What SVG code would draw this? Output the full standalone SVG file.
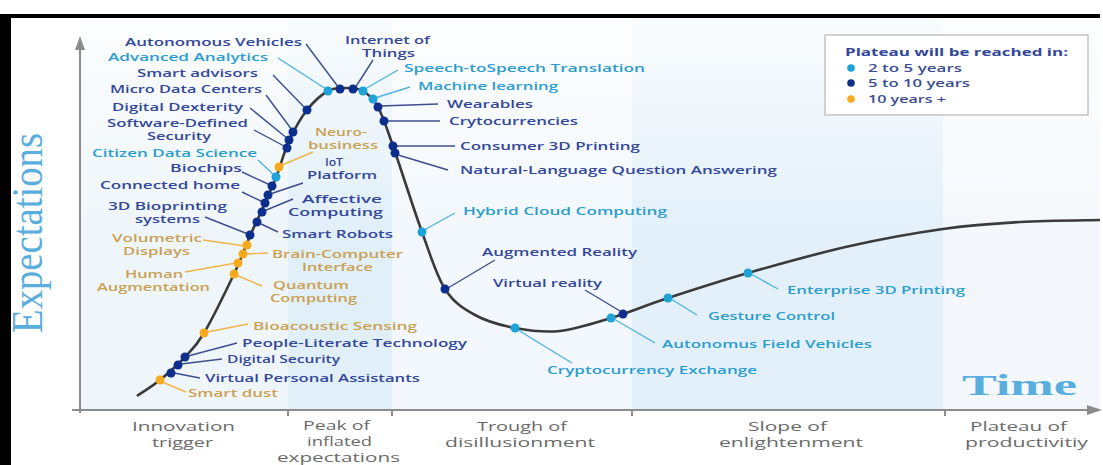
<svg xmlns="http://www.w3.org/2000/svg" width="1103" height="465" viewBox="0 0 1103 465">
<style>
.lbl{font-family:"Open Sans","Liberation Sans",sans-serif;font-size:11px;font-weight:600}
.d{fill:#33479a}.l{fill:#2c9dcd}.o{fill:#caa052}
.ax{font-family:"Open Sans","Liberation Sans",sans-serif;font-size:12.5px;fill:#6a6a6a}
.dd{fill:#0d2e8c}.dl{fill:#1ea3d9}.do{fill:#f7aa1e}
.ld,.ll,.lo{stroke-width:1.4;fill:none}
.ld{stroke:#3e4e8c}.ll{stroke:#4fb4df}.lo{stroke:#f0b44a}
.axis{stroke:#8c8c8c;stroke-width:2;fill:none}
.big{font-family:"Liberation Serif","DejaVu Serif",serif;fill:#5aaedd}
</style>
<defs>
<linearGradient id="fade" x1="0" y1="0" x2="0" y2="1">
<stop offset="0" stop-color="#ffffff" stop-opacity="0.8"/>
<stop offset="0.55" stop-color="#ffffff" stop-opacity="0"/>
</linearGradient>
</defs>
<rect width="1103" height="465" fill="#ffffff"/>
<g id="background">
<rect x="80" y="18" width="208" height="392" fill="#eff6fb"/>
<rect x="288" y="18" width="104" height="392" fill="#e1eff9"/>
<rect x="392" y="18" width="240" height="392" fill="#f2f8fd"/>
<rect x="632" y="18" width="311" height="392" fill="#e3f0fa"/>
<rect x="943" y="18" width="157" height="392" fill="#f4f8fc"/>
<rect x="80" y="18" width="1020" height="392" fill="url(#fade)"/>
</g>
<g id="frame">
<rect x="0" y="14" width="1100" height="4" fill="#000"/>
<rect x="0" y="14" width="11" height="451" fill="#000"/>
</g>
<g id="axes">
<line class="axis" x1="80" y1="48" x2="80" y2="413"/>
<polygon points="80,36 75,50 85,50" fill="#8c8c8c"/>
<line class="axis" x1="72" y1="410" x2="1090" y2="410"/>
<polygon points="1102,410 1087,405 1087,415" fill="#8c8c8c"/>
<line class="axis" x1="288" y1="410" x2="288" y2="416" stroke-width="1"/>
<line class="axis" x1="392" y1="410" x2="392" y2="416" stroke-width="1"/>
<line class="axis" x1="632" y1="410" x2="632" y2="416" stroke-width="1"/>
<line class="axis" x1="945" y1="410" x2="945" y2="416" stroke-width="1"/>
<text class="big" font-size="44" transform="translate(42,333) rotate(-90)" textLength="200" lengthAdjust="spacingAndGlyphs">Expectations</text>
<text class="big" font-size="30" font-weight="700" x="962" y="395" textLength="115" lengthAdjust="spacingAndGlyphs">Time</text>
</g>
<g id="phases" class="ax">
<text x="132" y="431" textLength="103" lengthAdjust="spacingAndGlyphs">Innovation</text>
<text x="152" y="447" textLength="61" lengthAdjust="spacingAndGlyphs">trigger</text>
<text x="303" y="430" textLength="67" lengthAdjust="spacingAndGlyphs">Peak of</text>
<text x="307" y="446" textLength="65" lengthAdjust="spacingAndGlyphs">inflated</text>
<text x="277" y="462" textLength="123" lengthAdjust="spacingAndGlyphs">expectations</text>
<text x="477" y="431" textLength="90" lengthAdjust="spacingAndGlyphs">Trough of</text>
<text x="445" y="447" textLength="150" lengthAdjust="spacingAndGlyphs">disillusionment</text>
<text x="748" y="431" textLength="79" lengthAdjust="spacingAndGlyphs">Slope of</text>
<text x="719" y="447" textLength="144" lengthAdjust="spacingAndGlyphs">enlightenment</text>
<text x="970" y="431" textLength="97" lengthAdjust="spacingAndGlyphs">Plateau of</text>
<text x="965" y="447" textLength="123" lengthAdjust="spacingAndGlyphs">productivitiy</text>
</g>
<g id="curve">
<path fill="none" stroke="#3a3a3a" stroke-width="2.6" d="M137,396 C140.8,393.3 152,386.5 160,380 C168,373.5 177.7,364.8 185,357 C192.3,349.2 195.8,346.8 204,333 C212.2,319.2 226.3,290.2 234,274 C241.7,257.8 244.8,247.8 250,236 C255.2,224.2 260.5,213.2 265,203 C269.5,192.8 273,185.3 277,175 C281,164.7 284,151.8 289,141 C294,130.2 300.5,118.3 307,110 C313.5,101.7 321.5,94.7 328,91 C334.5,87.3 340.2,88 346,88 C351.8,88 357.7,87.8 363,91 C368.3,94.2 373,97.8 378,107 C383,116.2 385.7,125.2 393,146 C400.3,166.8 413.3,208.2 422,232 C430.7,255.8 436.2,275.2 445,289 C453.8,302.8 463.3,308.5 475,315 C486.7,321.5 500.8,325.3 515,328 C529.2,330.7 544,332.7 560,331 C576,329.3 593,323.5 611,318 C629,312.5 645.2,305.5 668,298 C690.8,290.5 717.7,281.7 748,273 C778.3,264.3 817.5,253.3 850,246 C882.5,238.7 914.7,233 943,229 C971.3,225 993.8,223.5 1020,222 C1046.2,220.5 1086.7,220.3 1100,220"/>
</g>
<g id="connectors">
<line class="ld" x1="306" y1="44" x2="339" y2="88"/>
<line class="ll" x1="278" y1="58" x2="326" y2="89"/>
<line class="ld" x1="273" y1="75" x2="305" y2="108"/>
<line class="ld" x1="266" y1="95" x2="292" y2="130"/>
<line class="ld" x1="250" y1="108" x2="288" y2="139"/>
<line class="ld" x1="254" y1="130" x2="286" y2="147"/>
<line class="ll" x1="258" y1="160" x2="274" y2="175"/>
<line class="ld" x1="242" y1="172" x2="270" y2="185"/>
<line class="ld" x1="242" y1="192" x2="263" y2="202"/>
<line class="ld" x1="205" y1="217" x2="248" y2="234"/>
<line class="ld" x1="278" y1="232" x2="259" y2="223"/>
<line class="ld" x1="293" y1="199" x2="264" y2="211"/>
<line class="ld" x1="303" y1="183" x2="270" y2="194"/>
<line class="lo" x1="313" y1="152" x2="282" y2="165"/>
<line class="lo" x1="203" y1="240" x2="245" y2="246"/>
<line class="lo" x1="268" y1="253" x2="245" y2="254"/>
<line class="lo" x1="185" y1="272" x2="236" y2="263"/>
<line class="lo" x1="262" y1="286" x2="236" y2="275"/>
<line class="lo" x1="248" y1="324" x2="207" y2="332"/>
<line class="ld" x1="237" y1="343" x2="188" y2="356"/>
<line class="ld" x1="222" y1="359" x2="181" y2="364"/>
<line class="ld" x1="200" y1="378" x2="174" y2="373"/>
<line class="lo" x1="186" y1="392" x2="162" y2="382"/>
<line class="ld" x1="373" y1="60" x2="355" y2="88"/>
<line class="ll" x1="398" y1="70" x2="365" y2="89"/>
<line class="ll" x1="410" y1="87" x2="375" y2="98"/>
<line class="ld" x1="438" y1="104" x2="381" y2="106"/>
<line class="ld" x1="440" y1="121" x2="386" y2="121"/>
<line class="ld" x1="455" y1="146" x2="396" y2="146"/>
<line class="ld" x1="448" y1="170" x2="398" y2="155"/>
<line class="ll" x1="455" y1="213" x2="424" y2="230"/>
<line class="ld" x1="495" y1="260" x2="448" y2="288"/>
<line class="ld" x1="585" y1="290" x2="620" y2="311"/>
<line class="ll" x1="572" y1="363" x2="518" y2="330"/>
<line class="ll" x1="655" y1="343" x2="614" y2="319"/>
<line class="ll" x1="697" y1="315" x2="671" y2="299"/>
<line class="ll" x1="778" y1="289" x2="751" y2="274"/>
</g>
<g class="lbl">
<g id="n-autonomous-vehicles"><circle class="dd" cx="340" cy="89" r="4.5"/><text class="d" x="125" y="46" textLength="177" lengthAdjust="spacingAndGlyphs">Autonomous Vehicles</text></g>
<g id="n-advanced-analytics"><circle class="dl" cx="328" cy="91" r="4.5"/><text class="l" x="108" y="61" textLength="160" lengthAdjust="spacingAndGlyphs">Advanced Analytics</text></g>
<g id="n-smart-advisors"><circle class="dd" cx="307" cy="110" r="4.5"/><text class="d" x="137" y="77" textLength="121" lengthAdjust="spacingAndGlyphs">Smart advisors</text></g>
<g id="n-micro-data-centers"><circle class="dd" cx="293" cy="132" r="4.5"/><text class="d" x="110" y="93" textLength="152" lengthAdjust="spacingAndGlyphs">Micro Data Centers</text></g>
<g id="n-digital-dexterity"><circle class="dd" cx="289" cy="140" r="4.5"/><text class="d" x="112" y="111" textLength="131" lengthAdjust="spacingAndGlyphs">Digital Dexterity</text></g>
<g id="n-software-defined-security"><circle class="dd" cx="287" cy="148" r="4.5"/><text class="d" x="107" y="127" textLength="141" lengthAdjust="spacingAndGlyphs">Software-Defined</text><text class="d" x="147" y="140" textLength="64" lengthAdjust="spacingAndGlyphs">Security</text></g>
<g id="n-citizen-data-science"><circle class="dl" cx="276" cy="177" r="4.5"/><text class="l" x="92" y="157" textLength="165" lengthAdjust="spacingAndGlyphs">Citizen Data Science</text></g>
<g id="n-biochips"><circle class="dd" cx="272" cy="186" r="4.5"/><text class="d" x="170" y="172" textLength="72" lengthAdjust="spacingAndGlyphs">Biochips</text></g>
<g id="n-connected-home"><circle class="dd" cx="265" cy="203" r="4.5"/><text class="d" x="100" y="189" textLength="140" lengthAdjust="spacingAndGlyphs">Connected home</text></g>
<g id="n-3d-bioprinting"><circle class="dd" cx="250" cy="235" r="4.5"/><text class="d" x="108" y="210" textLength="119" lengthAdjust="spacingAndGlyphs">3D Bioprinting</text><text class="d" x="135" y="223" textLength="65" lengthAdjust="spacingAndGlyphs">systems</text></g>
<g id="n-volumetric-displays"><circle class="do" cx="247" cy="245" r="4.5"/><text class="o" x="112" y="242" textLength="90" lengthAdjust="spacingAndGlyphs">Volumetric</text><text class="o" x="123" y="255" textLength="67" lengthAdjust="spacingAndGlyphs">Displays</text></g>
<g id="n-human-augmentation"><circle class="do" cx="238" cy="263" r="4.5"/><text class="o" x="125" y="278" textLength="58" lengthAdjust="spacingAndGlyphs">Human</text><text class="o" x="97" y="291" textLength="113" lengthAdjust="spacingAndGlyphs">Augmentation</text></g>
<g id="n-smart-robots"><circle class="dd" cx="257" cy="222" r="4.5"/><text class="d" x="282" y="238" textLength="111" lengthAdjust="spacingAndGlyphs">Smart Robots</text></g>
<g id="n-brain-computer-interface"><circle class="do" cx="243" cy="254" r="4.5"/><text class="o" x="272" y="258" textLength="131" lengthAdjust="spacingAndGlyphs">Brain-Computer</text><text class="o" x="302" y="271" textLength="71" lengthAdjust="spacingAndGlyphs">Interface</text></g>
<g id="n-quantum-computing"><circle class="do" cx="234" cy="274" r="4.5"/><text class="o" x="273" y="289" textLength="76" lengthAdjust="spacingAndGlyphs">Quantum</text><text class="o" x="270" y="302" textLength="87" lengthAdjust="spacingAndGlyphs">Computing</text></g>
<g id="n-bioacoustic-sensing"><circle class="do" cx="204" cy="333" r="4.5"/><text class="o" x="253" y="330" textLength="164" lengthAdjust="spacingAndGlyphs">Bioacoustic Sensing</text></g>
<g id="n-people-literate-technology"><circle class="dd" cx="185" cy="357" r="4.5"/><text class="d" x="242" y="347" textLength="225" lengthAdjust="spacingAndGlyphs">People-Literate Technology</text></g>
<g id="n-digital-security"><circle class="dd" cx="178" cy="365" r="4.5"/><text class="d" x="227" y="363" textLength="113" lengthAdjust="spacingAndGlyphs">Digital Security</text></g>
<g id="n-virtual-personal-assistants"><circle class="dd" cx="171" cy="373" r="4.5"/><text class="d" x="205" y="382" textLength="215" lengthAdjust="spacingAndGlyphs">Virtual Personal Assistants</text></g>
<g id="n-smart-dust"><circle class="do" cx="160" cy="380" r="4.5"/><text class="o" x="188" y="397" textLength="90" lengthAdjust="spacingAndGlyphs">Smart dust</text></g>
<g id="n-neuro-business"><circle class="do" cx="279" cy="167" r="4.5"/><text class="o" x="315" y="136" textLength="52" lengthAdjust="spacingAndGlyphs">Neuro-</text><text class="o" x="308" y="149" textLength="70" lengthAdjust="spacingAndGlyphs">business</text></g>
<g id="n-iot-platform"><circle class="dd" cx="268" cy="195" r="4.5"/><text class="d" x="325" y="166" textLength="18" lengthAdjust="spacingAndGlyphs">IoT</text><text class="d" x="307" y="179" textLength="70" lengthAdjust="spacingAndGlyphs">Platform</text></g>
<g id="n-affective-computing"><circle class="dd" cx="262" cy="212" r="4.5"/><text class="d" x="302" y="203" textLength="80" lengthAdjust="spacingAndGlyphs">Affective</text><text class="d" x="288" y="216" textLength="95" lengthAdjust="spacingAndGlyphs">Computing</text></g>
<g id="n-internet-of-things"><circle class="dd" cx="353" cy="89" r="4.5"/><text class="d" x="345" y="44" textLength="85" lengthAdjust="spacingAndGlyphs">Internet of</text><text class="d" x="362" y="57" textLength="53" lengthAdjust="spacingAndGlyphs">Things</text></g>
<g id="n-speech-translation"><circle class="dl" cx="363" cy="91" r="4.5"/><text class="l" x="404" y="72" textLength="241" lengthAdjust="spacingAndGlyphs">Speech-toSpeech Translation</text></g>
<g id="n-machine-learning"><circle class="dl" cx="373" cy="99" r="4.5"/><text class="l" x="418" y="90" textLength="140" lengthAdjust="spacingAndGlyphs">Machine learning</text></g>
<g id="n-wearables"><circle class="dd" cx="378" cy="107" r="4.5"/><text class="d" x="447" y="108" textLength="86" lengthAdjust="spacingAndGlyphs">Wearables</text></g>
<g id="n-crytocurrencies"><circle class="dd" cx="384" cy="121" r="4.5"/><text class="d" x="449" y="125" textLength="129" lengthAdjust="spacingAndGlyphs">Crytocurrencies</text></g>
<g id="n-consumer-3d-printing"><circle class="dd" cx="393" cy="146" r="4.5"/><text class="d" x="460" y="150" textLength="180" lengthAdjust="spacingAndGlyphs">Consumer 3D Printing</text></g>
<g id="n-nlqa"><circle class="dd" cx="395" cy="153" r="4.5"/><text class="d" x="460" y="174" textLength="317" lengthAdjust="spacingAndGlyphs">Natural-Language Question Answering</text></g>
<g id="n-hybrid-cloud"><circle class="dl" cx="422" cy="232" r="4.5"/><text class="l" x="463" y="215" textLength="204" lengthAdjust="spacingAndGlyphs">Hybrid Cloud Computing</text></g>
<g id="n-augmented-reality"><circle class="dd" cx="445" cy="289" r="4.5"/><text class="d" x="482" y="256" textLength="155" lengthAdjust="spacingAndGlyphs">Augmented Reality</text></g>
<g id="n-virtual-reality"><circle class="dd" cx="623" cy="314" r="4.5"/><text class="d" x="493" y="287" textLength="109" lengthAdjust="spacingAndGlyphs">Virtual reality</text></g>
<g id="n-cryptocurrency-exchange"><circle class="dl" cx="515" cy="328" r="4.5"/><text class="l" x="547" y="374" textLength="210" lengthAdjust="spacingAndGlyphs">Cryptocurrency Exchange</text></g>
<g id="n-autonomus-field-vehicles"><circle class="dl" cx="611" cy="318" r="4.5"/><text class="l" x="662" y="348" textLength="210" lengthAdjust="spacingAndGlyphs">Autonomus Field Vehicles</text></g>
<g id="n-gesture-control"><circle class="dl" cx="668" cy="298" r="4.5"/><text class="l" x="708" y="320" textLength="127" lengthAdjust="spacingAndGlyphs">Gesture Control</text></g>
<g id="n-enterprise-3d-printing"><circle class="dl" cx="748" cy="273" r="4.5"/><text class="l" x="787" y="294" textLength="178" lengthAdjust="spacingAndGlyphs">Enterprise 3D Printing</text></g>
</g>
<g id="legend" class="lbl">
<rect x="825" y="35" width="263" height="80" fill="#ffffff" stroke="#c4c4c4" stroke-width="1.5"/>
<text class="d" x="845" y="56" font-weight="700" textLength="223" lengthAdjust="spacingAndGlyphs">Plateau will be reached in:</text>
<circle class="dl" cx="851" cy="68" r="3.8"/>
<text fill="#3b4d92" x="868" y="72" textLength="94" lengthAdjust="spacingAndGlyphs">2 to 5 years</text>
<circle class="dd" cx="851" cy="83" r="3.8"/>
<text fill="#3b4d92" x="868" y="87" textLength="102" lengthAdjust="spacingAndGlyphs">5 to 10 years</text>
<circle class="do" cx="851" cy="99" r="3.8"/>
<text fill="#3b4d92" x="868" y="103" textLength="78" lengthAdjust="spacingAndGlyphs">10 years +</text>
</g>
</svg>
